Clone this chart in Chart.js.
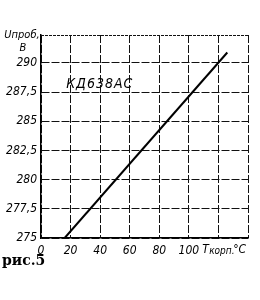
<!DOCTYPE html>
<html>
<head>
<meta charset="utf-8">
<script src="https://cdn.jsdelivr.net/npm/chart.js@4"></script>
<style>
  body { margin: 0; background: #fff; }
  #wrap { width: 260px; height: 300px; }
</style>
</head>
<body>
<div id="wrap"><canvas id="diodeChart"></canvas></div>
<script>
// temperature of case, deg C
let tempC = [16, 126];
// breakdown voltage, V
let uVolts = [275, 290.9];
let yTicks = [275, 277.5, 280, 282.5, 285, 287.5, 290];
let xTicks = [0, 20, 40, 60, 80, 100, 120, 140];
let xLabelsShown = [0, 20, 40, 60, 80, 100];

const fam = "'Liberation Sans Narrow', 'DejaVu Sans Condensed', sans-serif";
const tickFont = { family: fam, style: 'italic', size: 12 };

// ! text labels and top border
const extraText = {
    id: 'extraText',
    afterDraw(chart) {
        const ctx = chart.ctx;
        const a = chart.chartArea;
        const x = chart.scales.x;
        const y = chart.scales.y;
        ctx.save();
        // top edge
        ctx.strokeStyle = '#111';
        ctx.lineWidth = 1;
        ctx.setLineDash([3, 1]);
        ctx.beginPath();
        ctx.moveTo(a.left, a.top + 0.5);
        ctx.lineTo(a.right, a.top + 0.5);
        ctx.stroke();
        ctx.setLineDash([]);

        ctx.fillStyle = '#000';
        ctx.textAlign = 'center';
        ctx.textBaseline = 'alphabetic';
        ctx.font = "italic 11px " + fam;
        ctx.fillText('Uпроб,', a.left - 19, a.top + 3);
        ctx.fillText('В', a.left - 18, a.top + 16);

        // type name
        ctx.textAlign = 'left';
        ctx.font = "italic 14px " + fam;
        ctx.letterSpacing = '1px';
        ctx.fillText('КД638АС', x.getPixelForValue(17), y.getPixelForValue(287.9));
        ctx.letterSpacing = '0px';

        // x title
        const tx = x.getPixelForValue(109);
        const ty = a.bottom + 15;
        ctx.font = "italic 12px " + fam;
        ctx.fillText('T', tx, ty);
        ctx.font = "italic 10px " + fam;
        ctx.fillText('корп.', tx + 7, ty + 1);
        ctx.font = "italic 12px " + fam;
        ctx.fillText('°C', tx + 31, ty);

        // figure caption
        ctx.font = "bold 14px 'DejaVu Serif'";
        ctx.fillText('рис.5', 2, a.bottom + 27);
        ctx.restore();
    }
};

const chartCtx = document.getElementById('diodeChart').getContext('2d');
const dChart = new Chart(chartCtx, {
    type: 'line',
    data: {
        datasets: [{
            data: tempC.map((t, i) => ({ x: t, y: uVolts[i] })),
            borderColor: '#000',
            borderWidth: 2,
            pointRadius: 0,
            fill: false,
        }]
    },
    options: {
        responsive: true,
        maintainAspectRatio: false,
        animation: false,
        layout: { padding: { top: 35, right: 12, left: 0, bottom: 0 } },
        plugins: { legend: { display: false }, tooltip: { enabled: false } },
        scales: {
            x: {
                type: 'linear',
                min: 0,
                max: 140,
                afterBuildTicks: (s) => { s.ticks = xTicks.map(v => ({ value: v })); },
                afterFit: (s) => { s.height = 62; },
                grid: { color: '#111', lineWidth: 1, drawTicks: false },
                border: { color: '#000', width: 1.5, dash: [8, 2] },
                ticks: {
                    color: '#000',
                    font: tickFont,
                    padding: 6,
                    maxRotation: 0,
                    callback: (v) => xLabelsShown.includes(v) ? String(v) : '',
                }
            },
            y: {
                min: 275,
                max: 292.4,
                afterBuildTicks: (s) => { s.ticks = yTicks.map(v => ({ value: v })); },
                afterFit: (s) => { s.width = 41; },
                grid: { color: '#111', lineWidth: 1, drawTicks: false },
                border: { color: '#000', width: 1.5, dash: [8, 2] },
                ticks: {
                    color: '#000',
                    font: tickFont,
                    padding: 4,
                    callback: (v) => String(v).replace('.', ','),
                }
            }
        }
    },
    plugins: [extraText]
});
</script>
</body>
</html>
